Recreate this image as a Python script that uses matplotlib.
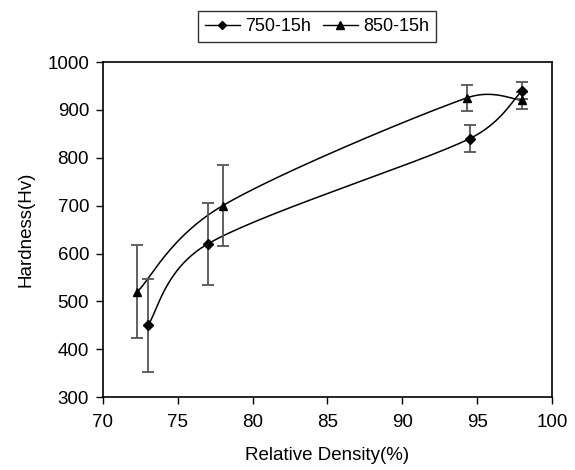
import numpy as np
import matplotlib
matplotlib.use('Agg')
import matplotlib.pyplot as plt
from matplotlib.lines import Line2D

# data
density_750 = [73.0, 77.0, 94.5, 98.0]
hardness_750 = [450, 620, 840, 940]
err_750 = [97, 85, 28, 18]

density_850 = [72.3, 78.0, 94.3, 98.0]
hardness_850 = [520, 700, 925, 920]
err_850 = [97, 85, 28, 18]

labels = ['750-15h', '850-15h']


def smooth_curve(xs, ys, sx=15.0, sy=0.479, n=60):
    """
    Excel 风格的平滑线：Catmull-Rom 贝塞尔，控制点长度限制为段长一半
    """
    pts = np.column_stack([np.array(xs) * sx, np.array(ys) * sy])

    def limit(v, seg_len):
        d = np.hypot(*v)
        cap = 0.5 * seg_len
        return v * (cap / d) if d > cap else v

    out = []
    for i in range(len(pts) - 1):
        p0 = pts[i - 1] if i > 0 else pts[i]
        p1 = pts[i]
        p2 = pts[i + 1]
        p3 = pts[i + 2] if i + 2 < len(pts) else pts[i + 1]
        seg_len = np.hypot(*(p2 - p1))
        c1 = p1 + limit((p2 - p0) / 6.0, seg_len)
        c2 = p2 - limit((p3 - p1) / 6.0, seg_len)
        t = np.linspace(0, 1, n)[:, None]
        seg = ((1 - t) ** 3) * p1 + 3 * ((1 - t) ** 2) * t * c1 + 3 * (1 - t) * t ** 2 * c2 + t ** 3 * p2
        out.append(seg)
    out = np.vstack(out)
    return out[:, 0] / sx, out[:, 1] / sy


plt.rcParams['font.family'] = ['Liberation Sans', 'DejaVu Sans']

fig = plt.figure(figsize=(5.75, 4.7), dpi=100)
ax = fig.add_axes([0.179, 0.155, 0.781, 0.713])

# 曲线
for xs, ys in [(density_750, hardness_750), (density_850, hardness_850)]:
    cx, cy = smooth_curve(xs, ys)
    ax.plot(cx, cy, color='black', lw=1.1)

# 误差棒
ax.errorbar(density_750, hardness_750, yerr=err_750, fmt='none',
            ecolor='#555555', elinewidth=1.3, capsize=4, capthick=1.3)
ax.errorbar(density_850, hardness_850, yerr=err_850, fmt='none',
            ecolor='#555555', elinewidth=1.3, capsize=4, capthick=1.3)

# 点
ax.plot(density_750, hardness_750, ls='none', marker='D', ms=5, color='black')
ax.plot(density_850, hardness_850, ls='none', marker='^', ms=6, color='black')

ax.set_xlim(70, 100)
ax.set_ylim(300, 1000)
ax.set_xticks(np.arange(70, 101, 5))
ax.set_yticks(np.arange(300, 1001, 100))
ax.tick_params(direction='out', length=5, width=1, pad=5, labelsize=13.5, colors='black')
ax.tick_params(axis='x', pad=7)
for s in ax.spines.values():
    s.set_linewidth(1.2)

ax.set_xlabel('Relative Density(%)', fontsize=13.5, labelpad=12)
ax.set_ylabel('Hardness(Hv)', fontsize=13.5, labelpad=9)

handles = [
    Line2D([], [], color='black', lw=1, marker='D', ms=4.5),
    Line2D([], [], color='black', lw=1, marker='^', ms=5.5),
]
leg = fig.legend(handles, labels, loc='center', bbox_to_anchor=(0.551, 0.944),
                 ncol=2, frameon=True, fancybox=False, edgecolor='black',
                 fontsize=13, handlelength=1.95, handletextpad=0.28,
                 columnspacing=0.65, borderpad=0.4, borderaxespad=0)
leg.get_frame().set_linewidth(1.0)

plt.savefig('out.png', dpi=100)
